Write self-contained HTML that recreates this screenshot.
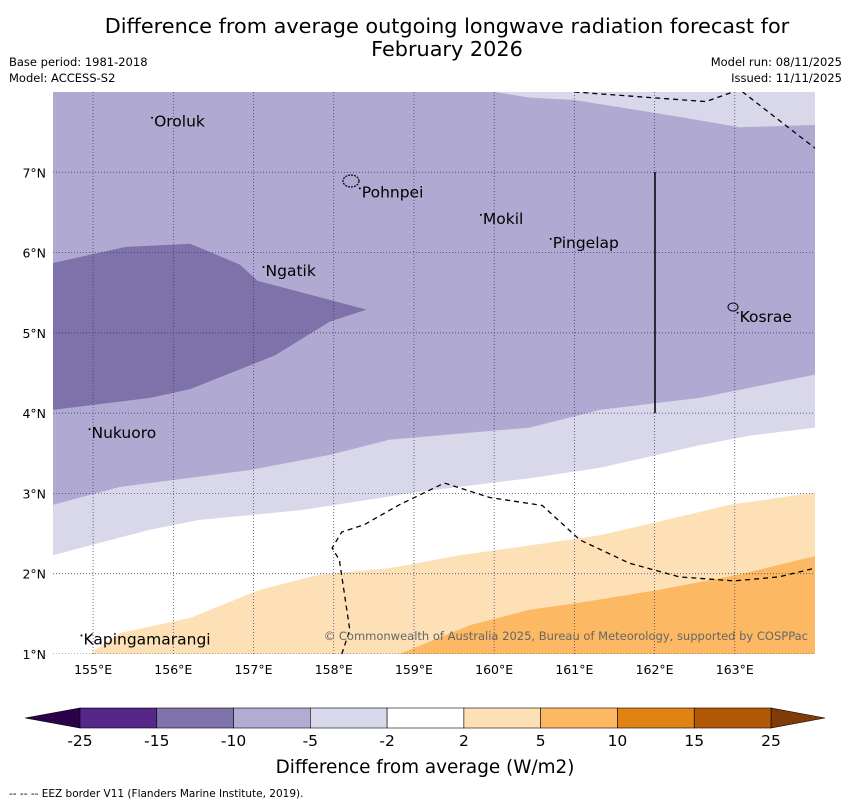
<!DOCTYPE html>
<html><head><meta charset="utf-8"><style>
body{margin:0;background:#fff;font-family:"DejaVu Sans","Liberation Sans",sans-serif;}
svg{display:block}
</style></head><body>
<svg id="c" width="850" height="804" viewBox="0 0 850 804" xmlns="http://www.w3.org/2000/svg" font-family="DejaVu Sans, Liberation Sans, sans-serif">
<text x="447" y="33" text-anchor="middle" font-size="20.8">Difference from average outgoing longwave radiation forecast for</text>
<text x="447" y="56" text-anchor="middle" font-size="20.8">February 2026</text>
<text x="9" y="66" font-size="11.5">Base period: 1981-2018</text>
<text x="9" y="82" font-size="11.5">Model: ACCESS-S2</text>
<text x="842" y="66" font-size="11.5" text-anchor="end">Model run: 08/11/2025</text>
<text x="842" y="82" font-size="11.5" text-anchor="end">Issued: 11/11/2025</text>
<defs><clipPath id="mc"><rect x="53" y="92" width="762" height="562"/></clipPath></defs>
<g id="map" clip-path="url(#mc)"></g>
<g id="over"></g>
<g id="cb"></g>
<text x="425" y="773" text-anchor="middle" font-size="18.4">Difference from average (W/m2)</text>
<text x="9" y="797" font-size="10.5">--  --  -- EEZ border V11 (Flanders Marine Institute, 2019).</text>
</svg>
<script>
const lonMin=154.5, lonMax=164.0, latMin=1.0, latMax=8.0;
const lonTicks=[155,156,157,158,159,160,161,162,163];
const latTicks=[1,2,3,4,5,6,7];
const darkRegion=[[154.5,5.87],[155.4,6.07],[156.21,6.11],[156.83,5.85],[157.05,5.65],[157.95,5.41],[158.41,5.29],[157.95,5.14],[157.27,4.72],[156.21,4.30],[155.71,4.19],[154.5,4.04]];
const lightUpper=[[154.5,2.86],[155.33,3.08],[156.95,3.29],[157.95,3.48],[158.7,3.67],[160.44,3.82],[161.32,4.04],[162.56,4.19],[164.0,4.48]];
const whiteUpper=[[154.5,2.23],[155.71,2.55],[156.33,2.67],[157.58,2.79],[159.07,3.02],[160.44,3.19],[161.32,3.32],[162.56,3.60],[163.19,3.72],[164.0,3.82]];
const peachUpper=[[154.96,1.0],[155.33,1.26],[156.21,1.45],[157.08,1.80],[157.83,1.99],[158.7,2.07],[159.57,2.23],[160.57,2.37],[161.32,2.48],[162.06,2.65],[162.94,2.86],[164.0,3.01]];
const orangeUpper=[[158.82,1.0],[159.7,1.36],[160.44,1.55],[161.07,1.64],[162.06,1.80],[163.06,1.99],[164.0,2.22]];
const topRightLight=[[160.01,8.0],[160.44,7.93],[161.0,7.9],[162.31,7.69],[163.06,7.56],[164.0,7.59],[164.0,8.0]];
const eezLower=[[158.1,1.0],[158.2,1.3],[158.07,2.17],[157.98,2.32],[158.1,2.52],[158.38,2.61],[158.82,2.86],[159.38,3.13],[159.94,2.95],[160.6,2.85],[161.07,2.42],[161.69,2.13],[162.31,1.96],[162.99,1.91],[163.55,1.96],[164.0,2.07]];
const eezTop=[[161.0,8.0],[162.64,7.88],[163.06,8.03],[164.0,7.3]];
const places=["Oroluk","Pohnpei","Mokil","Pingelap","Ngatik","Kosrae","Nukuoro","Kapingamarangi"];
const placeLon=[155.76,158.35,159.86,160.73,157.15,163.06,154.98,154.88];
const placeLat=[7.63,6.75,6.42,6.12,5.77,5.2,3.75,1.18];
const cbLabels=["-25","-15","-10","-5","-2","2","5","10","15","25"];
const cbColors=["#542788","#8073ac","#b2abd2","#d8daeb","#ffffff","#fee0b6","#fdb863","#e08214","#b35806"];

const X0=53,X1=815,Y0=92,Y1=654;
const sx=l=>X0+(l-lonMin)/(lonMax-lonMin)*(X1-X0);
const sy=l=>Y1-(l-latMin)/(latMax-latMin)*(Y1-Y0);
const NS="http://www.w3.org/2000/svg";
function mk(tag,attrs,parent){const e=document.createElementNS(NS,tag);for(const k in attrs)e.setAttribute(k,attrs[k]);parent.appendChild(e);return e;}
const map=document.getElementById('map'),over=document.getElementById('over'),cb=document.getElementById('cb');
const pts=a=>a.map(p=>sx(p[0]).toFixed(1)+","+sy(p[1]).toFixed(1)).join(" ");
const below=a=>pts(a)+" "+sx(a[a.length-1][0])+","+(Y1+5)+" "+sx(a[0][0])+","+(Y1+5);

let r=mk('rect',{x:X0,y:Y0,width:X1-X0,height:Y1-Y0,fill:'#b0a9d1'},map);


function band(arr,fill,name){const p=mk('polygon',{points:below(arr),fill:fill},map);

}
band(lightUpper,'#d8d8ea','band-minus5-minus2');
band(whiteUpper,'#ffffff','band-minus2-2');
band(peachUpper,'#fde0b6','band-2-5');
band(orangeUpper,'#fdb863','band-5-10');
let d=mk('polygon',{points:pts(darkRegion),fill:'#7f72ab'},map);


let t=mk('polygon',{points:pts(topRightLight),fill:'#d8d8ea'},map);


lonTicks.forEach(l=>{const g=mk('line',{x1:sx(l),x2:sx(l),y1:Y0,y2:Y1,stroke:'#333366','stroke-width':0.7,'stroke-dasharray':'1,2'},map);


const tx=mk('text',{x:sx(l),y:674,'text-anchor':'middle','font-size':12.5},over);tx.textContent=l+"°E";

});
latTicks.forEach(l=>{const g=mk('line',{x1:X0,x2:X1,y1:sy(l),y2:sy(l),stroke:'#333366','stroke-width':0.7,'stroke-dasharray':'1,2'},map);


const tx=mk('text',{x:46,y:sy(l)+5,'text-anchor':'end','font-size':12.5},over);tx.textContent=l+"°N";

});
[eezLower,eezTop].forEach(a=>{const e=mk('polyline',{points:pts(a),fill:'none',stroke:'#000','stroke-width':1.3,'stroke-dasharray':'5,4'},map);

});
let v=mk('line',{x1:655,x2:655,y1:172,y2:413,stroke:'#000','stroke-width':1.5},map);


places.forEach((n,i)=>{const x=sx(placeLon[i]),y=sy(placeLat[i]);
const dot=mk('circle',{cx:x-2,cy:y-4,r:1,fill:'#000'},map);


const tx=mk('text',{x:x,y:y+5,'font-size':15.5},map);tx.textContent=n;

});
let pn=mk('ellipse',{cx:351,cy:181,rx:8,ry:6,fill:'none',stroke:'#000','stroke-width':1.2,'stroke-dasharray':'2,1'},map);


let ko=mk('ellipse',{cx:733,cy:307,rx:5,ry:4,fill:'none',stroke:'#000','stroke-width':1},map);


let cp=mk('text',{x:808,y:640,'text-anchor':'end','font-size':11.5,fill:'#666'},map);cp.textContent="© Commonwealth of Australia 2025, Bureau of Meteorology, supported by COSPPac";


const cbx0=80,cbx1=771,cby=708,cbh=20,w=(cbx1-cbx0)/cbColors.length;
let lt=mk('polygon',{points:`${cbx0},${cby} ${cbx0},${cby+cbh} 25,${cby+cbh/2}`,fill:'#2d004b',stroke:'#000','stroke-width':0.6},cb);


let rt=mk('polygon',{points:`${cbx1},${cby} ${cbx1},${cby+cbh} 825,${cby+cbh/2}`,fill:'#7f3b08',stroke:'#000','stroke-width':0.6},cb);


cbColors.forEach((c,i)=>{const b=mk('rect',{x:cbx0+i*w,y:cby,width:w,height:cbh,fill:c,stroke:'#000','stroke-width':0.6},cb);

});
cbLabels.forEach((s,i)=>{const tx=mk('text',{x:cbx0+i*w,y:746,'text-anchor':'middle','font-size':15.5},cb);tx.textContent=s;

});
</script>
</body></html>
